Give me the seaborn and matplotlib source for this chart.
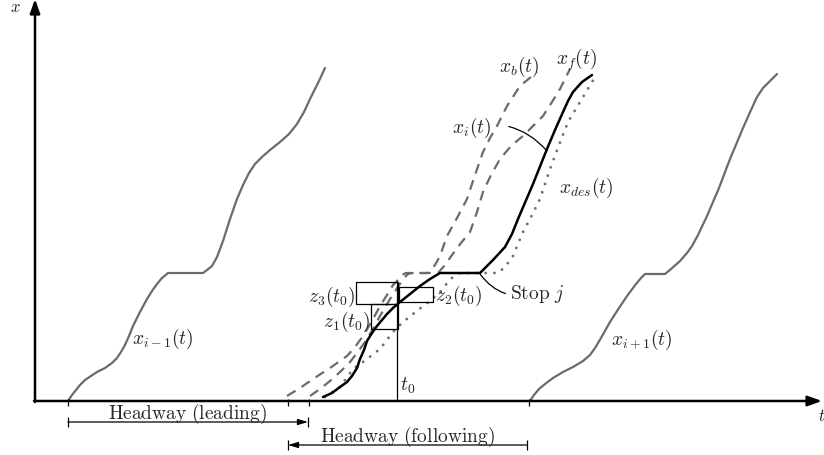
import matplotlib
matplotlib.use("Agg")
import matplotlib.pyplot as plt
import seaborn as sns
import pandas as pd

# ---- trajectories (t, x) ----
lead_t = [33, 37, 41, 45, 50, 56, 62, 70, 77, 82, 86, 90, 94, 98, 105, 112, 117, 122, 127, 133,
          168, 172, 177, 182, 188, 195, 202, 208, 214, 220, 227, 235, 245, 254, 262, 269, 275, 283, 290]
lead_x = [0, 6, 11, 16, 21, 25, 29, 33, 38, 43, 49, 56, 65, 75, 89, 102, 110, 117, 123, 128,
          128, 131, 135, 144, 160, 182, 202, 216, 228, 237, 244, 251, 259, 267, 277, 289, 302, 318, 333]

foll_t = [495, 499, 504, 510, 518, 528, 538, 548, 555, 560, 566, 575, 584, 592, 601, 606, 610,
          630, 636, 645, 652, 657, 663, 672, 684, 695, 708, 716, 722, 728, 735, 742]
foll_x = [0, 6, 12, 17, 23, 29, 34, 40, 46, 53, 63, 79, 93, 105, 117, 123, 127,
          127, 132, 140, 148, 155, 166, 185, 213, 242, 273, 291, 304, 313, 320, 327]

bus_t = [288, 297, 305, 312, 317, 322, 325, 329, 332, 337, 342, 347, 352, 358, 365, 375, 385, 395, 405,
         445, 458, 470, 477, 483, 498, 512, 520, 528, 533, 538, 547, 557]
bus_x = [4, 8, 14, 19, 25, 33, 42, 51, 60, 68, 75, 81, 87, 93, 99, 107, 115, 122, 128,
         128, 141, 154, 167, 182, 217, 252, 271, 289, 300, 309, 319, 326]

back_t = [252, 265, 278, 295, 312, 320, 328, 337, 345, 352, 358, 363, 367, 371,
          393, 400, 405, 412, 422, 432, 440, 448, 455, 462, 472, 485, 502]
back_x = [5, 13, 22, 33, 45, 54, 65, 80, 95, 106, 116, 121, 126, 128,
          128, 136, 145, 165, 183, 202, 226, 249, 263, 275, 295, 315, 329]

front_t = [275, 285, 295, 305, 315, 322, 330, 338, 345, 355, 363, 368, 373, 377,
           403, 410, 417, 426, 435, 442, 448, 456, 465, 476, 488, 498, 508, 517, 525, 535]
front_x = [5, 12, 20, 29, 39, 48, 59, 72, 85, 102, 114, 122, 127, 128,
           128, 136, 146, 158, 169, 189, 209, 226, 242, 255, 265, 275, 285, 299, 312, 332]

des_t = [290, 305, 318, 332, 345, 358, 368, 378, 387, 395, 405, 413, 419, 425,
         463, 470, 478, 488, 495, 505, 515, 524, 533, 545, 560]
des_x = [4, 14, 32, 42, 52, 69, 79, 87, 94, 100, 109, 119, 125, 128,
         128, 134, 145, 169, 182, 202, 232, 256, 279, 299, 324]

# axis ticks (departure times) and t0
tick_t = [33, 253, 274, 494]
t0 = 362
t0_top = 120

# z boxes: (t_left, t_right, x_bottom, x_top)
z3_box = (321, 363, 97, 119)
z1_box = (336, 363, 72, 97)
z2_box = (364, 398, 99, 114)

# headway intervals
headway_lead = (33, 273)
headway_foll = (253, 492)

GREY = "#6b6b6b"
FS = 14

sns.set_theme(style="white")
plt.rcParams["mathtext.fontset"] = "cm"
plt.rcParams["font.family"] = ["DejaVu Serif", "DejaVu Sans"]

fig = plt.figure(figsize=(8.24, 4.56), dpi=100)
ax = fig.add_axes([0, 0, 1, 1])
ax.set_xlim(-35, 789)
ax.set_ylim(-54, 402)
ax.axis("off")


def draw(t, x, color, lw, dashes=None, cap="butt"):
    df = pd.DataFrame({"t": t, "x": x})
    sns.lineplot(data=df, x="t", y="x", ax=ax, color=color, lw=lw,
                 sort=False, estimator=None, legend=False)
    ln = ax.lines[-1]
    ln.set_solid_joinstyle("round")
    if dashes is not None:
        ln.set_dashes(dashes)
        ln.set_dash_capstyle(cap)
    return ln


draw(lead_t, lead_x, GREY, 1.6)
draw(foll_t, foll_x, GREY, 1.6)
draw(back_t, back_x, GREY, 1.6, dashes=(4.5, 3.2))
draw(front_t, front_x, GREY, 1.6, dashes=(4.5, 3.2))
draw(des_t, des_x, "#707070", 2.1, dashes=(0.01, 3.0), cap="round")
draw(bus_t, bus_x, "black", 1.8)

# axes with arrows
ax.annotate("", xy=(787, 0), xytext=(-1, 0),
            arrowprops=dict(arrowstyle="-|>,head_length=0.7,head_width=0.25",
                            color="black", lw=1.8, shrinkA=0, shrinkB=0))
ax.annotate("", xy=(0, 402), xytext=(0, -1),
            arrowprops=dict(arrowstyle="-|>,head_length=0.7,head_width=0.25",
                            color="black", lw=1.8, shrinkA=0, shrinkB=0))
ax.text(-20, 395, r"$x$", fontsize=12, ha="center", va="center", color="#222222")
ax.text(783, -15, r"$t$", fontsize=12, ha="left", va="center", color="#222222")

# ticks on time axis
ax.vlines(tick_t, -5, 2, color="black", lw=0.9)
ax.vlines([t0], 0, t0_top, color="black", lw=0.9)
ax.text(t0 + 3, 16, r"$t_0$", fontsize=FS, ha="left", va="center")

# z boxes
for (tl, tr, xb, xt) in (z3_box, z1_box, z2_box):
    ax.plot([tl, tr, tr, tl, tl], [xb, xb, xt, xt, xb], color="black", lw=0.9)

ax.text(320, 105, r"$z_3(t_0)$", fontsize=FS, ha="right", va="center")
ax.text(335, 80, r"$z_1(t_0)$", fontsize=FS, ha="right", va="center")
ax.text(400, 106, r"$z_2(t_0)$", fontsize=FS, ha="left", va="center")

# stop label with leader
ax.annotate(r"$\mathrm{Stop}\ j$", xy=(445, 127), xytext=(475, 108),
            fontsize=FS, ha="left", va="center",
            arrowprops=dict(arrowstyle="-", color="black", lw=0.9,
                            shrinkA=1, shrinkB=0,
                            connectionstyle="arc3,rad=-0.35"))

# x_i label with leader
ax.annotate(r"$x_i(t)$", xy=(512, 250), xytext=(437, 274),
            fontsize=FS, ha="center", va="center",
            arrowprops=dict(arrowstyle="-", color="black", lw=0.9,
                            shrinkA=10, shrinkB=0,
                            connectionstyle="arc3,rad=-0.3"))

ax.text(484, 335, r"$x_b(t)$", fontsize=FS, ha="center", va="center")
ax.text(542, 342, r"$x_f(t)$", fontsize=FS, ha="center", va="center")
ax.text(551, 214, r"$x_{des}(t)$", fontsize=FS, ha="center", va="center")
ax.text(128, 63, r"$x_{i-1}(t)$", fontsize=FS, ha="center", va="center")
ax.text(607, 62, r"$x_{i+1}(t)$", fontsize=FS, ha="center", va="center")

# headway intervals
y_lead, y_foll = -21, -44
ax.annotate("", xy=(headway_lead[1], y_lead), xytext=(headway_lead[0], y_lead),
            arrowprops=dict(arrowstyle="-|>,head_length=0.5,head_width=0.15",
                            color="black", lw=0.9, shrinkA=0, shrinkB=0))
ax.vlines(list(headway_lead), y_lead - 5, y_lead + 5, color="black", lw=0.9)
ax.text(sum(headway_lead) / 2, -12, r"$\mathrm{Headway\ (leading)}$",
        fontsize=FS, ha="center", va="center")

ax.annotate("", xy=(headway_foll[0], y_foll), xytext=(headway_foll[1], y_foll),
            arrowprops=dict(arrowstyle="-|>,head_length=0.5,head_width=0.15",
                            color="black", lw=0.9, shrinkA=0, shrinkB=0))
ax.vlines(list(headway_foll), y_foll - 5, y_foll + 5, color="black", lw=0.9)
ax.text(sum(headway_foll) / 2, -35, r"$\mathrm{Headway\ (following)}$",
        fontsize=FS, ha="center", va="center")

fig.savefig("out.png", dpi=100, facecolor="white")
